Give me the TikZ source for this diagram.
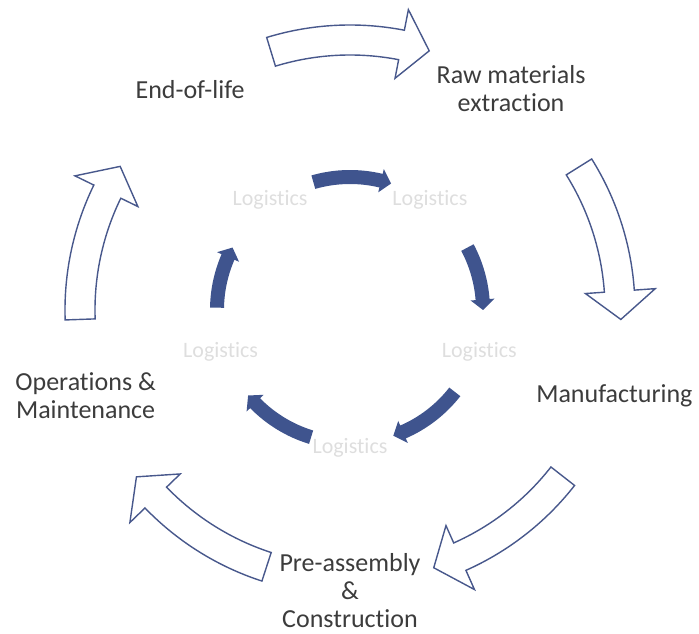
\documentclass[tikz,border=0pt]{standalone}
\usepackage{fontspec}
\setmainfont{Carlito}[Ligatures=NoCommon]
\definecolor{ringblue}{RGB}{72,88,140}
\definecolor{flowblue}{RGB}{63,84,142}
\definecolor{stagegray}{RGB}{60,60,60}

\begin{document}
\begin{tikzpicture}[
    stage/.style ={align=center, text=stagegray, font=\fontsize{26}{28}\selectfont},
    logistics/.style ={text=black!13, font=\fontsize{22}{24}\selectfont},
    ringarrow/.style ={draw=ringblue, line width=1.4pt, fill=white},
    flowarrow/.style ={fill=flowblue}]
   \useasboundingbox (-350pt,-324pt) rectangle (349pt,310pt);
   \coordinate (O) at (0,0);
   % outer life cycle
   \node[stage] (eol) at (126:272pt) {End-of-life};
   \node[stage] (raw) at (54:274pt) {Raw materials\\extraction};
   \node[stage] (man) at (-18:278pt) {Manufacturing};
   \node[stage] (pre) at (-90:281pt) {Pre-assembly\\\&\\Construction};
   \node[stage] (om) at (198:278pt) {Operations \&\\Maintenance};
   \draw[ringarrow] (107:285pt) arc[start angle=107, end angle=79, radius=285pt] -- (79:306pt) -- (73:271pt) -- (79:236pt) -- (79:255pt) arc[start angle=79, end angle=107, radius=255pt] -- cycle;
   \draw[ringarrow] (32:285pt) arc[start angle=32, end angle=4, radius=285pt] -- (4:306pt) -- (-2:271pt) -- (4:236pt) -- (4:255pt) arc[start angle=4, end angle=32, radius=255pt] -- cycle;
   \draw[ringarrow] (-38:285pt) arc[start angle=-38, end angle=-66, radius=285pt] -- (-66:306pt) -- (-72:271pt) -- (-66:236pt) -- (-66:255pt) arc[start angle=-66, end angle=-38, radius=255pt] -- cycle;
   \draw[ringarrow] (-108:285pt) arc[start angle=-108, end angle=-136, radius=285pt] -- (-136:306pt) -- (-142:271pt) -- (-136:236pt) -- (-136:255pt) arc[start angle=-136, end angle=-108, radius=255pt] -- cycle;
   \draw[ringarrow] (182:285pt) arc[start angle=182, end angle=154, radius=285pt] -- (154:306pt) -- (148:271pt) -- (154:236pt) -- (154:255pt) arc[start angle=154, end angle=182, radius=255pt] -- cycle;
   % inner logistics ring
   \node[logistics] (L1) at (126:136pt) {Logistics};
   \node[logistics] (L2) at (54:136pt) {Logistics};
   \node[logistics] (L3) at (-18:136pt) {Logistics};
   \node[logistics] (L4) at (-90:138pt) {Logistics};
   \node[logistics] (L5) at (198:136pt) {Logistics};
   \fill[flowarrow] (106:140pt) arc[start angle=106, end angle=76.5, radius=140pt] -- (76.5:145pt) -- (72:133pt) -- (76.5:121pt) -- (76.5:126pt) arc[start angle=76.5, end angle=106, radius=126pt] -- cycle;
   \fill[flowarrow] (28:140pt) arc[start angle=28, end angle=4.5, radius=140pt] -- (4.5:145pt) -- (0:133pt) -- (4.5:121pt) -- (4.5:126pt) arc[start angle=4.5, end angle=28, radius=126pt] -- cycle;
   \fill[flowarrow] (-38:140pt) arc[start angle=-38, end angle=-66.5, radius=140pt] -- (-66.5:145pt) -- (-71:133pt) -- (-66.5:121pt) -- (-66.5:126pt) arc[start angle=-66.5, end angle=-38, radius=126pt] -- cycle;
   \fill[flowarrow] (-107:140pt) arc[start angle=-107, end angle=-135.5, radius=140pt] -- (-135.5:145pt) -- (-140:133pt) -- (-135.5:121pt) -- (-135.5:126pt) arc[start angle=-135.5, end angle=-107, radius=126pt] -- cycle;
   \fill[flowarrow] (179:140pt) arc[start angle=179, end angle=156.5, radius=140pt] -- (156.5:145pt) -- (152:133pt) -- (156.5:121pt) -- (156.5:126pt) arc[start angle=156.5, end angle=179, radius=126pt] -- cycle;
 \end{tikzpicture}
\end{document}
